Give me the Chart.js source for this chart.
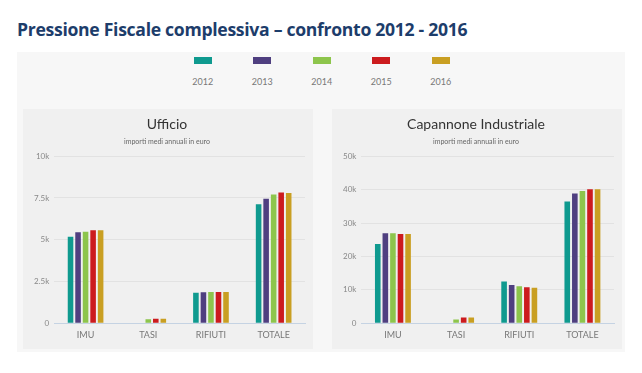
<!DOCTYPE html>
<html>
<head>
<meta charset="utf-8">
<script src="https://cdn.jsdelivr.net/npm/chart.js@4/dist/chart.umd.min.js"></script>
<style>
  body { margin: 0; background: #fff; width: 642px; height: 373px; position: relative; overflow: hidden; }
  #title { position: absolute; left: 17px; top: 17px; font-family: 'Open Sans', sans-serif; font-weight: 700;
           font-size: 17.6px; color: #1d3d6b; white-space: nowrap; letter-spacing: -0.3px; }
  #outer { position: absolute; left: 17px; top: 52px; width: 608px; height: 300px; background: #f7f7f7; }
  #legend { position: absolute; left: 173px; top: 57px; display: flex; }
  .item { width: 59.5px; text-align: center; font-family: 'Lato', sans-serif; font-size: 9px; color: #777; }
  .sw { width: 18px; height: 7px; margin: 0 auto 12px auto; }
  .panel { position: absolute; top: 109px; width: 290px; height: 240px; background: #f0f0f0; }
</style>
</head>
<body>
<div id="title">Pressione Fiscale complessiva – confronto 2012 - 2016</div>
<div id="outer"></div>
<div id="legend"></div>
<div class="panel" style="left:23px"><canvas id="c1" width="290" height="240"></canvas></div>
<div class="panel" style="left:332px"><canvas id="c2" width="290" height="240"></canvas></div>
<script>
const categories = ['IMU', 'TASI', 'RIFIUTI', 'TOTALE'];
const years = ['2012', '2013', '2014', '2015', '2016'];
const colors = ['#0f9a8f', '#4f3f80', '#8dc54c', '#cc1b1e', '#c99f22'];

// Ufficio, valori per anno (IMU, TASI, RIFIUTI, TOTALE)
const ufficio = {
  2012: [5180, 0, 1820, 7130],
  2013: [5440, 0, 1850, 7450],
  2014: [5480, 240, 1870, 7710],
  2015: [5560, 270, 1870, 7830],
  2016: [5560, 270, 1870, 7790]
};
// Capannone Industriale
const capannone = {
  2012: [23700, 0, 12500, 36400],
  2013: [26900, 0, 11400, 38800],
  2014: [26900, 1100, 11100, 39600],
  2015: [26700, 1700, 10800, 40100],
  2016: [26700, 1700, 10600, 40100]
};
const ufficioTicks = { max: 10000, step: 2500 };
const capannoneTicks = { max: 50000, step: 10000 };

// legenda comune
const legend = document.getElementById('legend');
years.forEach((y, i) => {
  const d = document.createElement('div');
  d.className = 'item';
  d.innerHTML = '<div class="sw" style="background:' + colors[i] + '"></div>' + y;
  legend.appendChild(d);
});

Chart.defaults.font.family = 'Lato, sans-serif';

function makeChart(id, title, values, ticks) {
  const ctx = document.getElementById(id).getContext('2d');
  return new Chart(ctx, {
    type: 'bar',
    data: {
      labels: categories,
      datasets: years.map((y, i) => ({
        label: y,
        data: values[y],
        backgroundColor: colors[i],
        barPercentage: 0.74,
        categoryPercentage: 0.6
      }))
    },
    options: {
      responsive: false,
      animation: false,
      layout: { padding: { left: 6, right: 8, bottom: 2 } },
      plugins: {
        legend: { display: false },
        tooltip: { enabled: false },
        title: {
          display: true, text: title, color: '#333',
          font: { size: 14, weight: 'normal' },
          padding: { top: 7, bottom: 3 }
        },
        subtitle: {
          display: true, text: 'importi medi annuali in euro', color: '#666',
          font: { size: 7 },
          padding: { top: 2, bottom: 10 }
        }
      },
      scales: {
        x: {
          grid: { display: false, drawTicks: false },
          border: { color: '#c5d3e3' },
          ticks: { color: '#777', font: { size: 9 }, padding: 6.5 }
        },
        y: {
          min: 0, max: ticks.max,
          border: { display: false },
          grid: { color: '#e2e2e2', drawTicks: false },
          ticks: {
            stepSize: ticks.step, color: '#888', font: { size: 8 }, padding: 5,
            callback: v => v === 0 ? '0' : (v / 1000) + 'k'
          }
        }
      }
    }
  });
}

makeChart('c1', 'Ufficio', ufficio, ufficioTicks);
makeChart('c2', 'Capannone Industriale', capannone, capannoneTicks);
</script>
</body>
</html>
